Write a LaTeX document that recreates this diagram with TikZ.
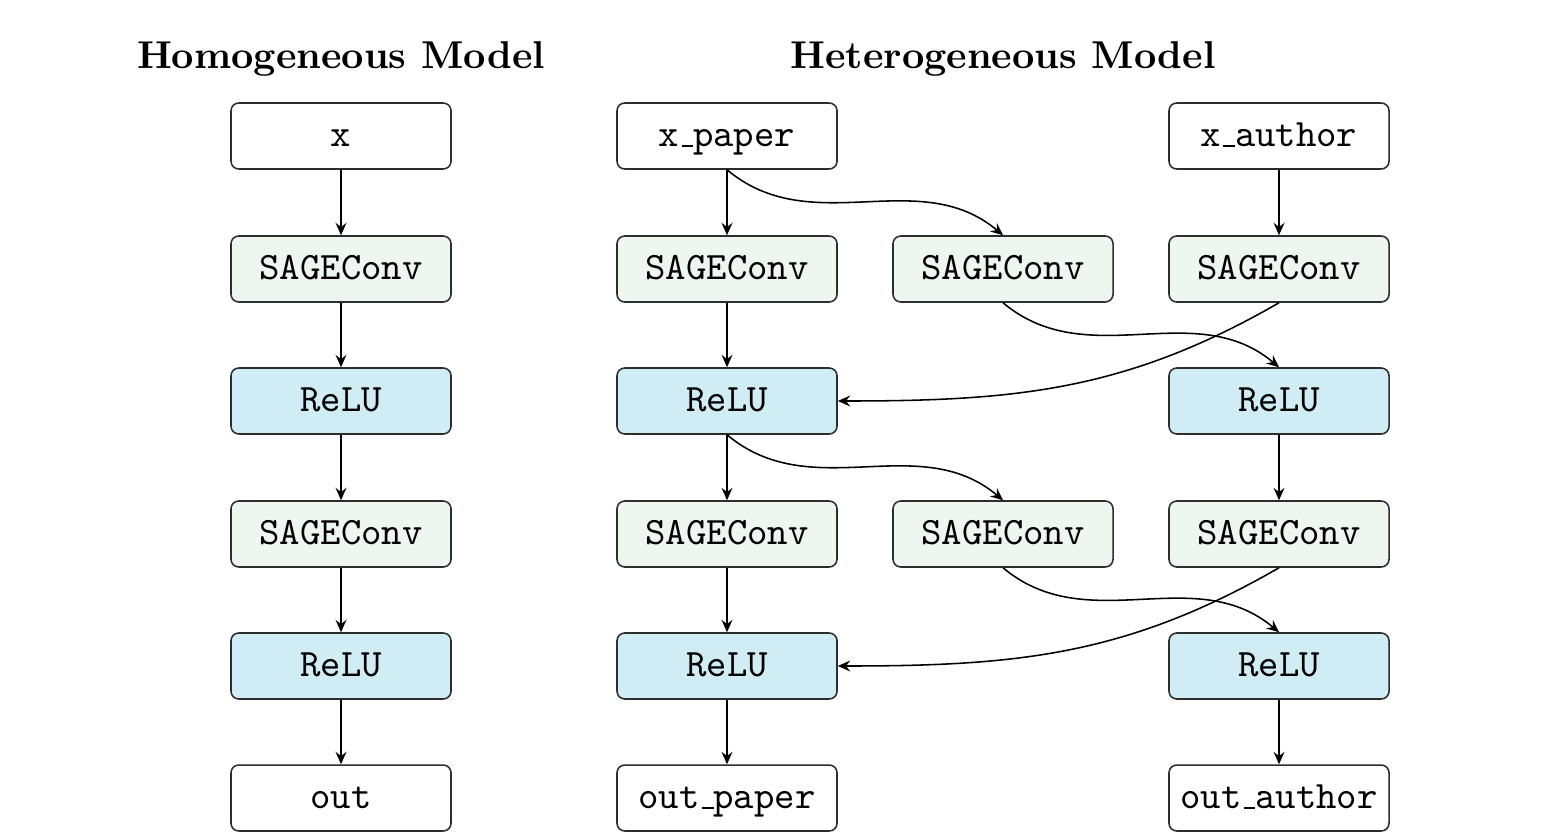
\documentclass[tikz,border=0pt]{standalone}
\usetikzlibrary{arrows.meta}
\definecolor{sagefill}{RGB}{238,247,239}
\definecolor{relufill}{RGB}{208,236,244}
\definecolor{boxline}{RGB}{45,45,45}
\newcommand\lowbar{\leavevmode\kern.06em\vbox{\hrule width.3em}}
\begin{document}
\begin{tikzpicture}[x=0.2577pt,y=0.2577pt,
  box/.style={draw=boxline, line width=0.4pt, rounded corners=2pt,
    minimum width=56.7pt, minimum height=17pt, inner sep=0pt,
    text height=5.5pt, text depth=0pt, font=\ttfamily},
  plainbox/.style={box, fill=white},
  sagebox/.style={box, fill=sagefill},
  relubox/.style={box, fill=relufill},
  conn/.style={-{Stealth[length=3.2pt,width=2.8pt,inset=1.1pt]}, line width=0.4pt},
  ttl/.style={font=\bfseries}]
\useasboundingbox (0,0) rectangle (1562,-838);
\fill[white] (0,0) rectangle (1562,-838);
% titles
\node[ttl] (t1) at (341,-59) {Homogeneous Model};
\node[ttl] (t2) at (1003,-59) {Heterogeneous Model};
% homogeneous column
\node[plainbox] (hx) at (341,-136) {x};
\node[sagebox] (hs1) at (341,-269) {SAGEConv};
\node[relubox] (hr1) at (341,-401) {ReLU};
\node[sagebox] (hs2) at (341,-534) {SAGEConv};
\node[relubox] (hr2) at (341,-666) {ReLU};
\node[plainbox] (ho) at (341,-798) {out};
\draw[conn] (hx) -- (hs1);
\draw[conn] (hs1) -- (hr1);
\draw[conn] (hr1) -- (hs2);
\draw[conn] (hs2) -- (hr2);
\draw[conn] (hr2) -- (ho);
% heterogeneous: paper column
\node[plainbox] (px) at (727,-136) {x\lowbar paper};
\node[sagebox] (ps1) at (727,-269) {SAGEConv};
\node[relubox] (pr1) at (727,-401) {ReLU};
\node[sagebox] (ps2) at (727,-534) {SAGEConv};
\node[relubox] (pr2) at (727,-666) {ReLU};
\node[plainbox] (po) at (727,-798) {out\lowbar paper};
% middle column
\node[sagebox] (ms1) at (1003,-269) {SAGEConv};
\node[sagebox] (ms2) at (1003,-534) {SAGEConv};
% author column
\node[plainbox] (ax) at (1279,-136) {x\lowbar author};
\node[sagebox] (as1) at (1279,-269) {SAGEConv};
\node[relubox] (ar1) at (1279,-401) {ReLU};
\node[sagebox] (as2) at (1279,-534) {SAGEConv};
\node[relubox] (ar2) at (1279,-666) {ReLU};
\node[plainbox] (ao) at (1279,-798) {out\lowbar author};
% straight connectors
\draw[conn] (px) -- (ps1);
\draw[conn] (ps1) -- (pr1);
\draw[conn] (pr1) -- (ps2);
\draw[conn] (ps2) -- (pr2);
\draw[conn] (pr2) -- (po);
\draw[conn] (ax) -- (as1);
\draw[conn] (ar1) -- (as2);
\draw[conn] (ar2) -- (ao);
% curved connectors
\draw[conn] (px.south) to[out=-40,in=140] (ms1.north);
\draw[conn] (ms1.south) to[out=-40,in=140] (ar1.north);
\draw[conn] (as1.south) to[out=210,in=0] (pr1.east);
\draw[conn] (pr1.south) to[out=-40,in=140] (ms2.north);
\draw[conn] (ms2.south) to[out=-40,in=140] (ar2.north);
\draw[conn] (as2.south) to[out=210,in=0] (pr2.east);
\end{tikzpicture}
\end{document}
